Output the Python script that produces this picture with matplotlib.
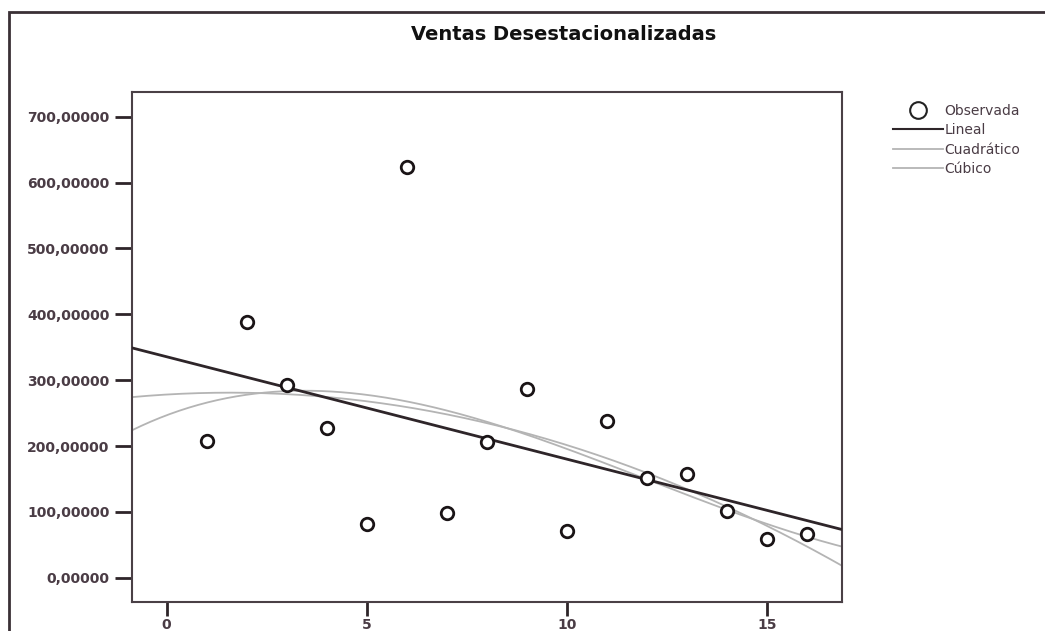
import matplotlib.pyplot as plt
import numpy as np
from matplotlib.lines import Line2D
from matplotlib.patches import Rectangle

periodo = np.array([1, 2, 3, 4, 5, 6, 7, 8, 9, 10, 11, 12, 13, 14, 15, 16])
ventas = np.array([207, 389, 292, 228, 81, 623, 98, 206, 286, 71, 238, 151, 157, 102, 59, 66])

ytick_vals = [0, 100, 200, 300, 400, 500, 600, 700]
xtick_vals = [0, 5, 10, 15]
etiquetas = ["Observada", "Lineal", "Cuadrático", "Cúbico"]

plt.rcParams['font.family'] = ['DejaVu Sans']
txt_col = '#4a3c45'
dark = '#2e2529'
light = '#b4b4b4'

fig = plt.figure(figsize=(10.45, 6.31), dpi=100)
ax = fig.add_axes([0.126, 0.0455, 0.6795, 0.8092])

xlim = (-0.875, 16.87)
xs = np.linspace(xlim[0], xlim[1], 300)

# curve fits of the observed series
lin = np.polyval(np.polyfit(periodo, ventas, 1), xs)
cuad = np.polyval(np.polyfit(periodo, ventas, 2), xs)
cub = np.polyval(np.polyfit(periodo, ventas, 3), xs)

ax.plot(xs, cuad, color=light, lw=1.3, zorder=2)
ax.plot(xs, cub, color=light, lw=1.3, zorder=2)
ax.plot(xs, lin, color=dark, lw=2, zorder=3)
ax.plot(periodo, ventas, 'o', ms=9, mfc='white', mec='#1a1416', mew=2, zorder=4)

ax.set_xlim(*xlim)
ax.set_ylim(-37.3, 738)
ax.set_yticks(ytick_vals)
ax.set_yticklabels([f"{v},00000" for v in ytick_vals])
ax.set_xticks(xtick_vals)
ax.tick_params(axis='y', direction='out', length=12, width=2, color=dark,
               labelcolor=txt_col, labelsize=10, pad=4)
ax.tick_params(axis='x', direction='out', length=10, width=2, color=dark,
               labelcolor=txt_col, labelsize=10, pad=1)
for lab in ax.get_yticklabels() + ax.get_xticklabels():
    lab.set_fontweight('semibold')
for sp in ax.spines.values():
    sp.set_color('#4a4046')
    sp.set_linewidth(1.5)

# outer frame of the chart
fig.patches.append(Rectangle((8.5 / 1045, -0.1), 1.2, 1 - 11.5 / 631 + 0.1,
                             transform=fig.transFigure, fill=False,
                             ec='#3a3035', lw=2))

fig.text(564 / 1045, 1 - 34 / 631, "Ventas Desestacionalizadas", ha='center', va='center',
         fontsize=14, fontweight='bold', color='#111111')

handles = [Line2D([], [], ls='none', marker='o', ms=12, mfc='white', mec='#222', mew=1.5),
           Line2D([], [], color=dark, lw=1.5),
           Line2D([], [], color=light, lw=1.3),
           Line2D([], [], color=light, lw=1.3)]
fig.legend(handles, etiquetas, loc='upper left', bbox_to_anchor=(893 / 1045, 1 - 104 / 631),
           frameon=False, fontsize=10, handlelength=3.6, handletextpad=0.1,
           labelspacing=0.38, borderpad=0, borderaxespad=0, labelcolor=txt_col)

fig.savefig("out.png", dpi=100)
